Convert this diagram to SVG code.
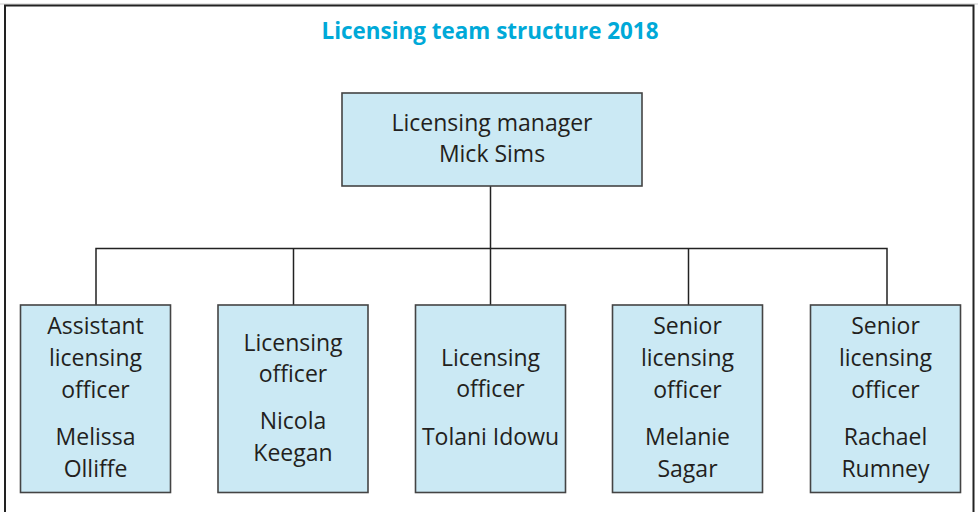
<svg xmlns="http://www.w3.org/2000/svg" width="978" height="512" viewBox="0 0 978 512">
  <style>
    .frame { fill: none; stroke: #222; stroke-width: 2; }
    .box { fill: #cbe9f4; stroke: #444; stroke-width: 1.6; }
    .wire { fill: none; stroke: #222; stroke-width: 1.5; }
    .title { font-family: "Open Sans", "Noto Sans", sans-serif; font-weight: bold; font-size: 23px; fill: #00a9d8; text-anchor: middle; }
    .lbl { font-family: "Open Sans", "Noto Sans", sans-serif; font-size: 23px; fill: #231f20; text-anchor: middle; }
  </style>

  <!-- outer frame, open at the bottom -->
  <path d="M0 4 H978" stroke="#ccc" stroke-width="1"/>
  <path class="frame" d="M5 512 V5.5 H973.5 V512"/>

  <text class="title" x="490" y="39" textLength="337" lengthAdjust="spacingAndGlyphs">Licensing team structure 2018</text>

  <!-- connectors -->
  <g id="connectors">
    <path class="wire" d="M490.5 186 V305"/>
    <path class="wire" d="M96 305 V248.5 H887 V305"/>
    <path class="wire" d="M293.5 248.5 V305"/>
    <path class="wire" d="M688.5 248.5 V305"/>
  </g>

  <g id="manager">
    <rect class="box" x="342" y="93" width="300" height="93"/>
    <text class="lbl" x="492" y="131">Licensing manager</text>
    <text class="lbl" x="492" y="162">Mick Sims</text>
  </g>

  <g id="assistant-officer">
    <rect class="box" x="20.5" y="305" width="150" height="187.5"/>
    <text class="lbl" x="95.5" y="334">Assistant</text>
    <text class="lbl" x="95.5" y="366">licensing</text>
    <text class="lbl" x="95.5" y="398">officer</text>
    <text class="lbl" x="95.5" y="445">Melissa</text>
    <text class="lbl" x="95.5" y="477">Olliffe</text>
  </g>

  <g id="officer-keegan">
    <rect class="box" x="218" y="305" width="150" height="187.5"/>
    <text class="lbl" x="293" y="351">Licensing</text>
    <text class="lbl" x="293" y="382">officer</text>
    <text class="lbl" x="293" y="429">Nicola</text>
    <text class="lbl" x="293" y="461">Keegan</text>
  </g>

  <g id="officer-idowu">
    <rect class="box" x="415.5" y="305" width="150" height="187.5"/>
    <text class="lbl" x="490.5" y="366">Licensing</text>
    <text class="lbl" x="490.5" y="397">officer</text>
    <text class="lbl" x="490.5" y="445">Tolani Idowu</text>
  </g>

  <g id="senior-sagar">
    <rect class="box" x="612.5" y="305" width="150" height="187.5"/>
    <text class="lbl" x="687.5" y="334">Senior</text>
    <text class="lbl" x="687.5" y="366">licensing</text>
    <text class="lbl" x="687.5" y="398">officer</text>
    <text class="lbl" x="687.5" y="445">Melanie</text>
    <text class="lbl" x="687.5" y="477">Sagar</text>
  </g>

  <g id="senior-rumney">
    <rect class="box" x="810.5" y="305" width="150" height="187.5"/>
    <text class="lbl" x="885.5" y="334">Senior</text>
    <text class="lbl" x="885.5" y="366">licensing</text>
    <text class="lbl" x="885.5" y="398">officer</text>
    <text class="lbl" x="885.5" y="445">Rachael</text>
    <text class="lbl" x="885.5" y="477">Rumney</text>
  </g>
</svg>
